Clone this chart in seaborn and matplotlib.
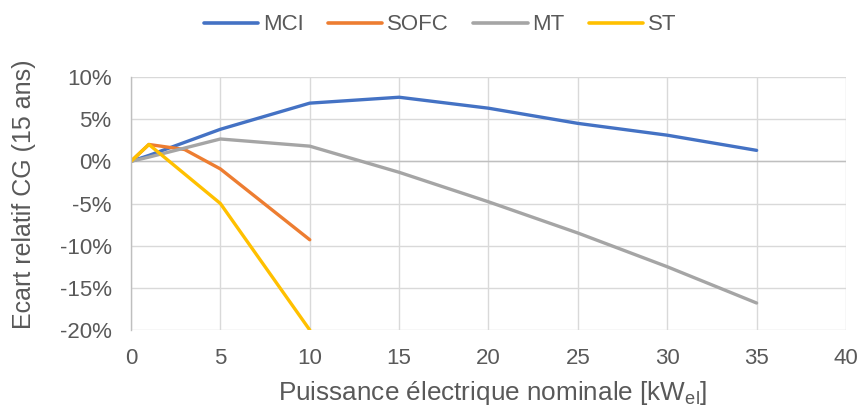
import matplotlib
matplotlib.use("Agg")
import matplotlib.pyplot as plt
import seaborn as sns
import pandas as pd
from matplotlib.ticker import FuncFormatter, MultipleLocator

# Data (relative deviation, %)
mci_x = [0, 1, 5, 10, 15, 20, 25, 30, 35]
mci_y = [0.0, 0.7, 3.8, 6.9, 7.6, 6.3, 4.5, 3.1, 1.3]
sofc_x = [0, 1, 3, 5, 10]
sofc_y = [0.0, 2.0, 1.4, -0.9, -9.3]
mt_x = [0, 1, 5, 10, 15, 20, 25, 30, 35]
mt_y = [0.0, 0.5, 2.65, 1.8, -1.3, -4.8, -8.5, -12.5, -16.8]
st_x = [0, 1, 5, 10]
st_y = [0.0, 2.0, -5.0, -20.0]

series = ["MCI", "SOFC", "MT", "ST"]
colors = ["#4472C4", "#ED7D31", "#A5A5A5", "#FFC000"]

frames = []
for name, xs, ys in zip(series, [mci_x, sofc_x, mt_x, st_x], [mci_y, sofc_y, mt_y, st_y]):
    frames.append(pd.DataFrame({"x": xs, "y": ys, "serie": name}))
df = pd.concat(frames, ignore_index=True)

sns.set_theme(style="white")
plt.rcParams["font.family"] = ["Liberation Sans", "DejaVu Sans"]
text_color = "#595959"

fig = plt.figure(figsize=(8.62, 4.08), dpi=100)
ax = fig.add_axes([131 / 862, 1 - 330 / 408, (846 - 131) / 862, (330 - 77) / 408])

sns.lineplot(data=df, x="x", y="y", hue="serie", hue_order=series,
             palette=dict(zip(series, colors)), linewidth=2.4, ax=ax,
             sort=False, estimator=None, legend=True)

ax.set_xlim(0, 40)
ax.set_ylim(-20, 10)
ax.xaxis.set_major_locator(MultipleLocator(5))
ax.yaxis.set_major_locator(MultipleLocator(5))
ax.yaxis.set_major_formatter(FuncFormatter(lambda v, p: f"{v:.0f}%"))
ax.grid(True, color="#D9D9D9", linewidth=1.0)
ax.set_axisbelow(True)
for s in ["top", "right", "bottom"]:
    ax.spines[s].set_visible(False)
ax.spines["left"].set_color("#BFBFBF")
ax.spines["left"].set_linewidth(1.0)
ax.axhline(0, color="#BFBFBF", linewidth=1.0, zorder=1.5)

ax.tick_params(axis="y", labelsize=16, colors=text_color, length=0, pad=14)
ax.tick_params(axis="x", labelsize=16, colors=text_color, length=0, pad=13)
ax.set_xlabel("Puissance électrique nominale [kW$_{\\mathregular{el}}$]", fontsize=18.8, color=text_color)
ax.set_ylabel("Ecart relatif CG (15 ans)", fontsize=18, color=text_color)
ax.xaxis.set_label_coords((493 - 131) / 715, (330 - 379) / 253)
ax.yaxis.set_label_coords((36 - 131) / 715, (330 - 194) / 253)

leg = ax.legend(loc="center", bbox_to_anchor=(440 / 862, 1 - 25 / 408), bbox_transform=fig.transFigure,
                ncol=4, frameon=False, fontsize=16, handlelength=2.45, columnspacing=1.1,
                handletextpad=0.2, title=None)
for t in leg.get_texts():
    t.set_color(text_color)
for line in leg.get_lines():
    line.set_linewidth(2.6)

fig.savefig("out.png", dpi=100)
